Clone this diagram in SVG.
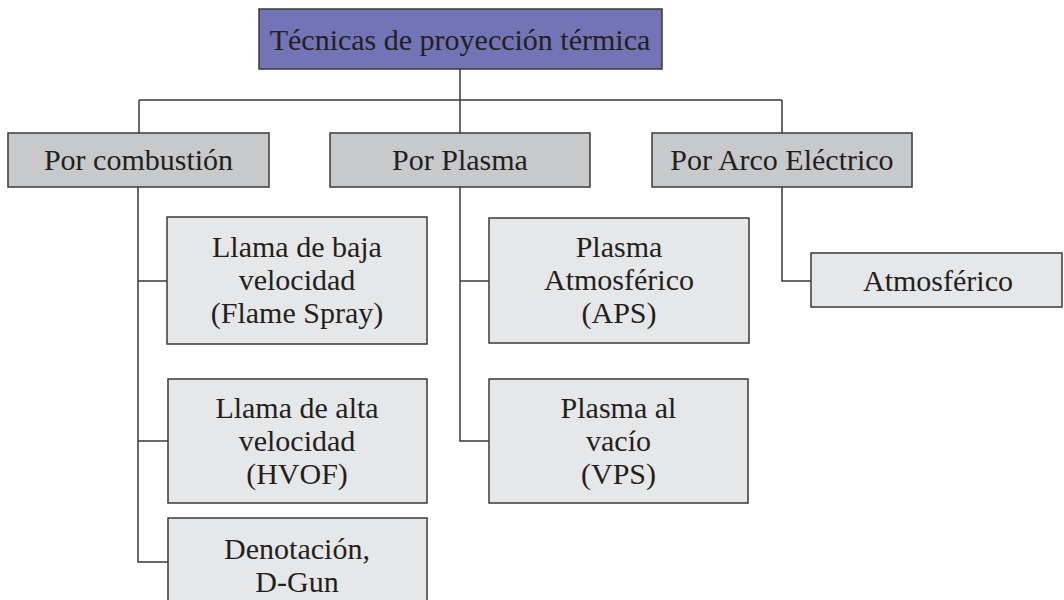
<svg xmlns="http://www.w3.org/2000/svg" width="1064" height="600" viewBox="0 0 1064 600">
<style>
  .box { stroke: #3a3a3a; stroke-width: 1.5; }
  .l1 { fill: #7274b6; }
  .l2 { fill: #c8c9cb; }
  .l3 { fill: #e6e7e8; }
  text { font-family: "Liberation Serif", "DejaVu Serif", serif; font-size: 30px; fill: #231f20; text-anchor: middle; }
  .conn { stroke: #3a3a3a; stroke-width: 1.5; fill: none; }
</style>
<rect width="1064" height="600" fill="#ffffff"/>
<g id="connectors">
  <path class="conn" d="M460,69 V100 M139,100 H782 M139,100 V133 M460,100 V133 M782,100 V133"/>
  <path class="conn" d="M138,187 V562 H168 M138,281 H167 M138,441 H168"/>
  <path class="conn" d="M460,187 V441 H489 M460,281 H489"/>
  <path class="conn" d="M782,187 V281 H811"/>
</g>
<g id="title">
  <rect class="box l1" x="259" y="9" width="403" height="60"/>
  <text x="460" y="50">Técnicas de proyección térmica</text>
</g>
<g id="combustion">
  <rect class="box l2" x="8" y="133" width="261" height="54"/>
  <text x="138.5" y="170">Por combustión</text>
</g>
<g id="plasma">
  <rect class="box l2" x="330" y="133" width="260" height="54"/>
  <text x="460" y="170">Por Plasma</text>
</g>
<g id="arco">
  <rect class="box l2" x="652" y="133" width="260" height="54"/>
  <text x="782" y="170">Por Arco Eléctrico</text>
</g>
<g id="llama-baja">
  <rect class="box l3" x="167" y="217" width="260" height="127"/>
  <text x="297" y="257">Llama de baja</text>
  <text x="297" y="290">velocidad</text>
  <text x="297" y="323">(Flame Spray)</text>
</g>
<g id="llama-alta">
  <rect class="box l3" x="168" y="379" width="259" height="124"/>
  <text x="297" y="418">Llama de alta</text>
  <text x="297" y="451">velocidad</text>
  <text x="297" y="484">(HVOF)</text>
</g>
<g id="denotacion">
  <rect class="box l3" x="168" y="518" width="259" height="124"/>
  <text x="297" y="559">Denotación,</text>
  <text x="297" y="592">D-Gun</text>
</g>
<g id="plasma-atm">
  <rect class="box l3" x="489" y="218" width="260" height="125"/>
  <text x="619" y="257">Plasma</text>
  <text x="619" y="290">Atmosférico</text>
  <text x="619" y="323">(APS)</text>
</g>
<g id="plasma-vacio">
  <rect class="box l3" x="489" y="379" width="259" height="124"/>
  <text x="618.5" y="418">Plasma al</text>
  <text x="618.5" y="451">vacío</text>
  <text x="618.5" y="484">(VPS)</text>
</g>
<g id="atmosferico">
  <rect class="box l3" x="811" y="253" width="251" height="54"/>
  <text x="938" y="291">Atmosférico</text>
</g>
</svg>
